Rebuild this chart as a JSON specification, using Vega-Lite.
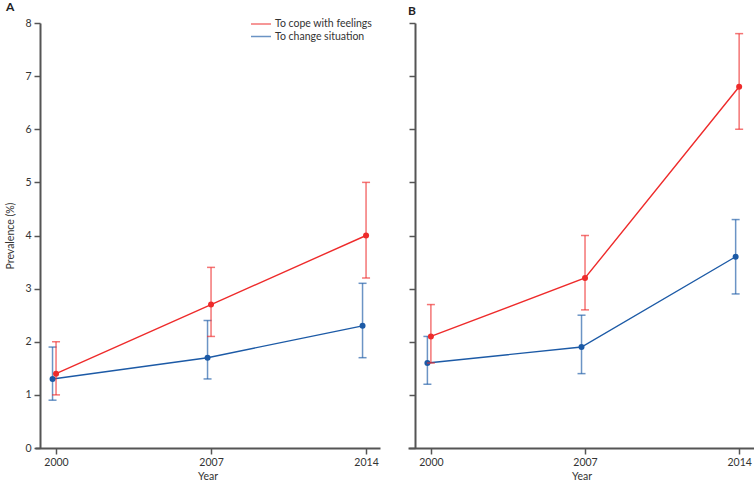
{
  "$schema": "https://vega.github.io/schema/vega-lite/v6.json",
  "autosize": {"type": "pad"},
  "padding": {"left": 5, "top": 1, "right": 0, "bottom": 0},
  "background": "white",
  "config": {
    "font": "Lato",
    "view": {"stroke": null},
    "concat": {"spacing": 28},
    "axis": {
      "domainColor": "#555555",
      "domainWidth": 2,
      "tickColor": "#555555",
      "tickWidth": 1.5,
      "tickSize": 6,
      "grid": false,
      "labelFontSize": 10.5,
      "labelColor": "#333333",
      "titleFontSize": 10.5,
      "titleFontWeight": "normal",
      "titleColor": "#333333"
    },
    "title": {"anchor": "start", "fontSize": 12, "fontWeight": "bold", "color": "#222222", "offset": 4}
  },
  "data": {
    "values": [
      {"panel": "A", "series": "To cope with feelings", "year": 2000, "value": 1.4, "lo": 1.0, "hi": 2.0},
      {"panel": "A", "series": "To cope with feelings", "year": 2007, "value": 2.7, "lo": 2.1, "hi": 3.4},
      {"panel": "A", "series": "To cope with feelings", "year": 2014, "value": 4.0, "lo": 3.2, "hi": 5.0},
      {"panel": "A", "series": "To change situation", "year": 2000, "value": 1.3, "lo": 0.9, "hi": 1.9},
      {"panel": "A", "series": "To change situation", "year": 2007, "value": 1.7, "lo": 1.3, "hi": 2.4},
      {"panel": "A", "series": "To change situation", "year": 2014, "value": 2.3, "lo": 1.7, "hi": 3.1},
      {"panel": "B", "series": "To cope with feelings", "year": 2000, "value": 2.1, "lo": 1.6, "hi": 2.7},
      {"panel": "B", "series": "To cope with feelings", "year": 2007, "value": 3.2, "lo": 2.6, "hi": 4.0},
      {"panel": "B", "series": "To cope with feelings", "year": 2014, "value": 6.8, "lo": 6.0, "hi": 7.8},
      {"panel": "B", "series": "To change situation", "year": 2000, "value": 1.6, "lo": 1.2, "hi": 2.1},
      {"panel": "B", "series": "To change situation", "year": 2007, "value": 1.9, "lo": 1.4, "hi": 2.5},
      {"panel": "B", "series": "To change situation", "year": 2014, "value": 3.6, "lo": 2.9, "hi": 4.3}
    ]
  },
  "hconcat": [
    {
      "title": {"text": "A"},
      "width": 345,
      "height": 425,
      "transform": [{"filter": "datum.panel === 'A'"}],
      "encoding": {
        "x": {"field": "year", "type": "quantitative", "scale": {"domain": [1999.05, 2014.63], "nice": false, "zero": false},
              "axis": {"values": [2000, 2007, 2014], "format": "d", "title": "Year", "titlePadding": 4, "labelPadding": 3}},
        "color": {"field": "series", "type": "nominal",
                  "scale": {"domain": ["To cope with feelings", "To change situation"], "range": ["#ee2b2b", "#1c5aa6"]},
                  "legend": {"orient": "none", "legendX": 220, "legendY": -5, "title": null, "symbolType": "M-2,0H2", "symbolSize": 100, "symbolStrokeWidth": 1.5, "labelFontSize": 10.5, "labelColor": "#333333", "rowPadding": 0.5, "labelOffset": 8}}
      },
      "layer": [
        {
          "transform": [{"filter": "datum.series === 'To change situation'"}],
          "mark": {"type": "rule", "xOffset": -3.5, "strokeWidth": 1.5, "opacity": 0.65},
          "encoding": {
            "y": {"field": "lo", "type": "quantitative", "scale": {"domain": [0, 8], "nice": false},
                  "axis": {"values": [0,1,2,3,4,5,6,7,8], "title": "Prevalence (%)", "offset": -5, "titlePadding": 9, "labelPadding": 3}},
            "y2": {"field": "hi"}
          }
        },
        {
          "transform": [{"filter": "datum.series === 'To change situation'"}],
          "mark": {"type": "tick", "orient": "horizontal", "xOffset": -3.5, "size": 8, "thickness": 1.5, "opacity": 0.65},
          "encoding": {"y": {"field": "lo", "type": "quantitative"}}
        },
        {
          "transform": [{"filter": "datum.series === 'To change situation'"}],
          "mark": {"type": "tick", "orient": "horizontal", "xOffset": -3.5, "size": 8, "thickness": 1.5, "opacity": 0.65},
          "encoding": {"y": {"field": "hi", "type": "quantitative"}}
        },
        {
          "transform": [{"filter": "datum.series === 'To change situation'"}],
          "mark": {"type": "line", "xOffset": -3.5, "strokeWidth": 1.4},
          "encoding": {"y": {"field": "value", "type": "quantitative"}}
        },
        {
          "transform": [{"filter": "datum.series === 'To change situation'"}],
          "mark": {"type": "point", "xOffset": -3.5, "filled": true, "size": 36, "opacity": 1},
          "encoding": {"y": {"field": "value", "type": "quantitative"}}
        },
        {
          "transform": [{"filter": "datum.series === 'To cope with feelings'"}],
          "mark": {"type": "rule", "strokeWidth": 1.5, "opacity": 0.65},
          "encoding": {"y": {"field": "lo", "type": "quantitative"}, "y2": {"field": "hi"}}
        },
        {
          "transform": [{"filter": "datum.series === 'To cope with feelings'"}],
          "mark": {"type": "tick", "orient": "horizontal", "size": 8, "thickness": 1.5, "opacity": 0.65},
          "encoding": {"y": {"field": "lo", "type": "quantitative"}}
        },
        {
          "transform": [{"filter": "datum.series === 'To cope with feelings'"}],
          "mark": {"type": "tick", "orient": "horizontal", "size": 8, "thickness": 1.5, "opacity": 0.65},
          "encoding": {"y": {"field": "hi", "type": "quantitative"}}
        },
        {
          "transform": [{"filter": "datum.series === 'To cope with feelings'"}],
          "mark": {"type": "line", "strokeWidth": 1.4},
          "encoding": {"y": {"field": "value", "type": "quantitative"}}
        },
        {
          "transform": [{"filter": "datum.series === 'To cope with feelings'"}],
          "mark": {"type": "point", "filled": true, "size": 36, "opacity": 1},
          "encoding": {"y": {"field": "value", "type": "quantitative"}}
        }
      ]
    },
    {
      "title": {"text": "B"},
      "width": 347,
      "height": 425,
      "transform": [{"filter": "datum.panel === 'B'"}],
      "encoding": {
        "x": {"field": "year", "type": "quantitative", "scale": {"domain": [1998.96, 2014.72], "nice": false, "zero": false},
              "axis": {"values": [2000, 2007, 2014], "format": "d", "title": "Year", "titlePadding": 4, "labelPadding": 3}},
        "color": {"field": "series", "type": "nominal",
                  "scale": {"domain": ["To cope with feelings", "To change situation"], "range": ["#ee2b2b", "#1c5aa6"]},
                  "legend": null}
      },
      "layer": [
        {
          "transform": [{"filter": "datum.series === 'To change situation'"}],
          "mark": {"type": "rule", "xOffset": -3.5, "strokeWidth": 1.5, "opacity": 0.65},
          "encoding": {
            "y": {"field": "lo", "type": "quantitative", "scale": {"domain": [0, 8], "nice": false},
                  "axis": {"values": [0,1,2,3,4,5,6,7,8], "title": null, "labels": false, "offset": -7}},
            "y2": {"field": "hi"}
          }
        },
        {
          "transform": [{"filter": "datum.series === 'To change situation'"}],
          "mark": {"type": "tick", "orient": "horizontal", "xOffset": -3.5, "size": 8, "thickness": 1.5, "opacity": 0.65},
          "encoding": {"y": {"field": "lo", "type": "quantitative"}}
        },
        {
          "transform": [{"filter": "datum.series === 'To change situation'"}],
          "mark": {"type": "tick", "orient": "horizontal", "xOffset": -3.5, "size": 8, "thickness": 1.5, "opacity": 0.65},
          "encoding": {"y": {"field": "hi", "type": "quantitative"}}
        },
        {
          "transform": [{"filter": "datum.series === 'To change situation'"}],
          "mark": {"type": "line", "xOffset": -3.5, "strokeWidth": 1.4},
          "encoding": {"y": {"field": "value", "type": "quantitative"}}
        },
        {
          "transform": [{"filter": "datum.series === 'To change situation'"}],
          "mark": {"type": "point", "xOffset": -3.5, "filled": true, "size": 36, "opacity": 1},
          "encoding": {"y": {"field": "value", "type": "quantitative"}}
        },
        {
          "transform": [{"filter": "datum.series === 'To cope with feelings'"}],
          "mark": {"type": "rule", "strokeWidth": 1.5, "opacity": 0.65},
          "encoding": {"y": {"field": "lo", "type": "quantitative"}, "y2": {"field": "hi"}}
        },
        {
          "transform": [{"filter": "datum.series === 'To cope with feelings'"}],
          "mark": {"type": "tick", "orient": "horizontal", "size": 8, "thickness": 1.5, "opacity": 0.65},
          "encoding": {"y": {"field": "lo", "type": "quantitative"}}
        },
        {
          "transform": [{"filter": "datum.series === 'To cope with feelings'"}],
          "mark": {"type": "tick", "orient": "horizontal", "size": 8, "thickness": 1.5, "opacity": 0.65},
          "encoding": {"y": {"field": "hi", "type": "quantitative"}}
        },
        {
          "transform": [{"filter": "datum.series === 'To cope with feelings'"}],
          "mark": {"type": "line", "strokeWidth": 1.4},
          "encoding": {"y": {"field": "value", "type": "quantitative"}}
        },
        {
          "transform": [{"filter": "datum.series === 'To cope with feelings'"}],
          "mark": {"type": "point", "filled": true, "size": 36, "opacity": 1},
          "encoding": {"y": {"field": "value", "type": "quantitative"}}
        }
      ]
    }
  ]
}
